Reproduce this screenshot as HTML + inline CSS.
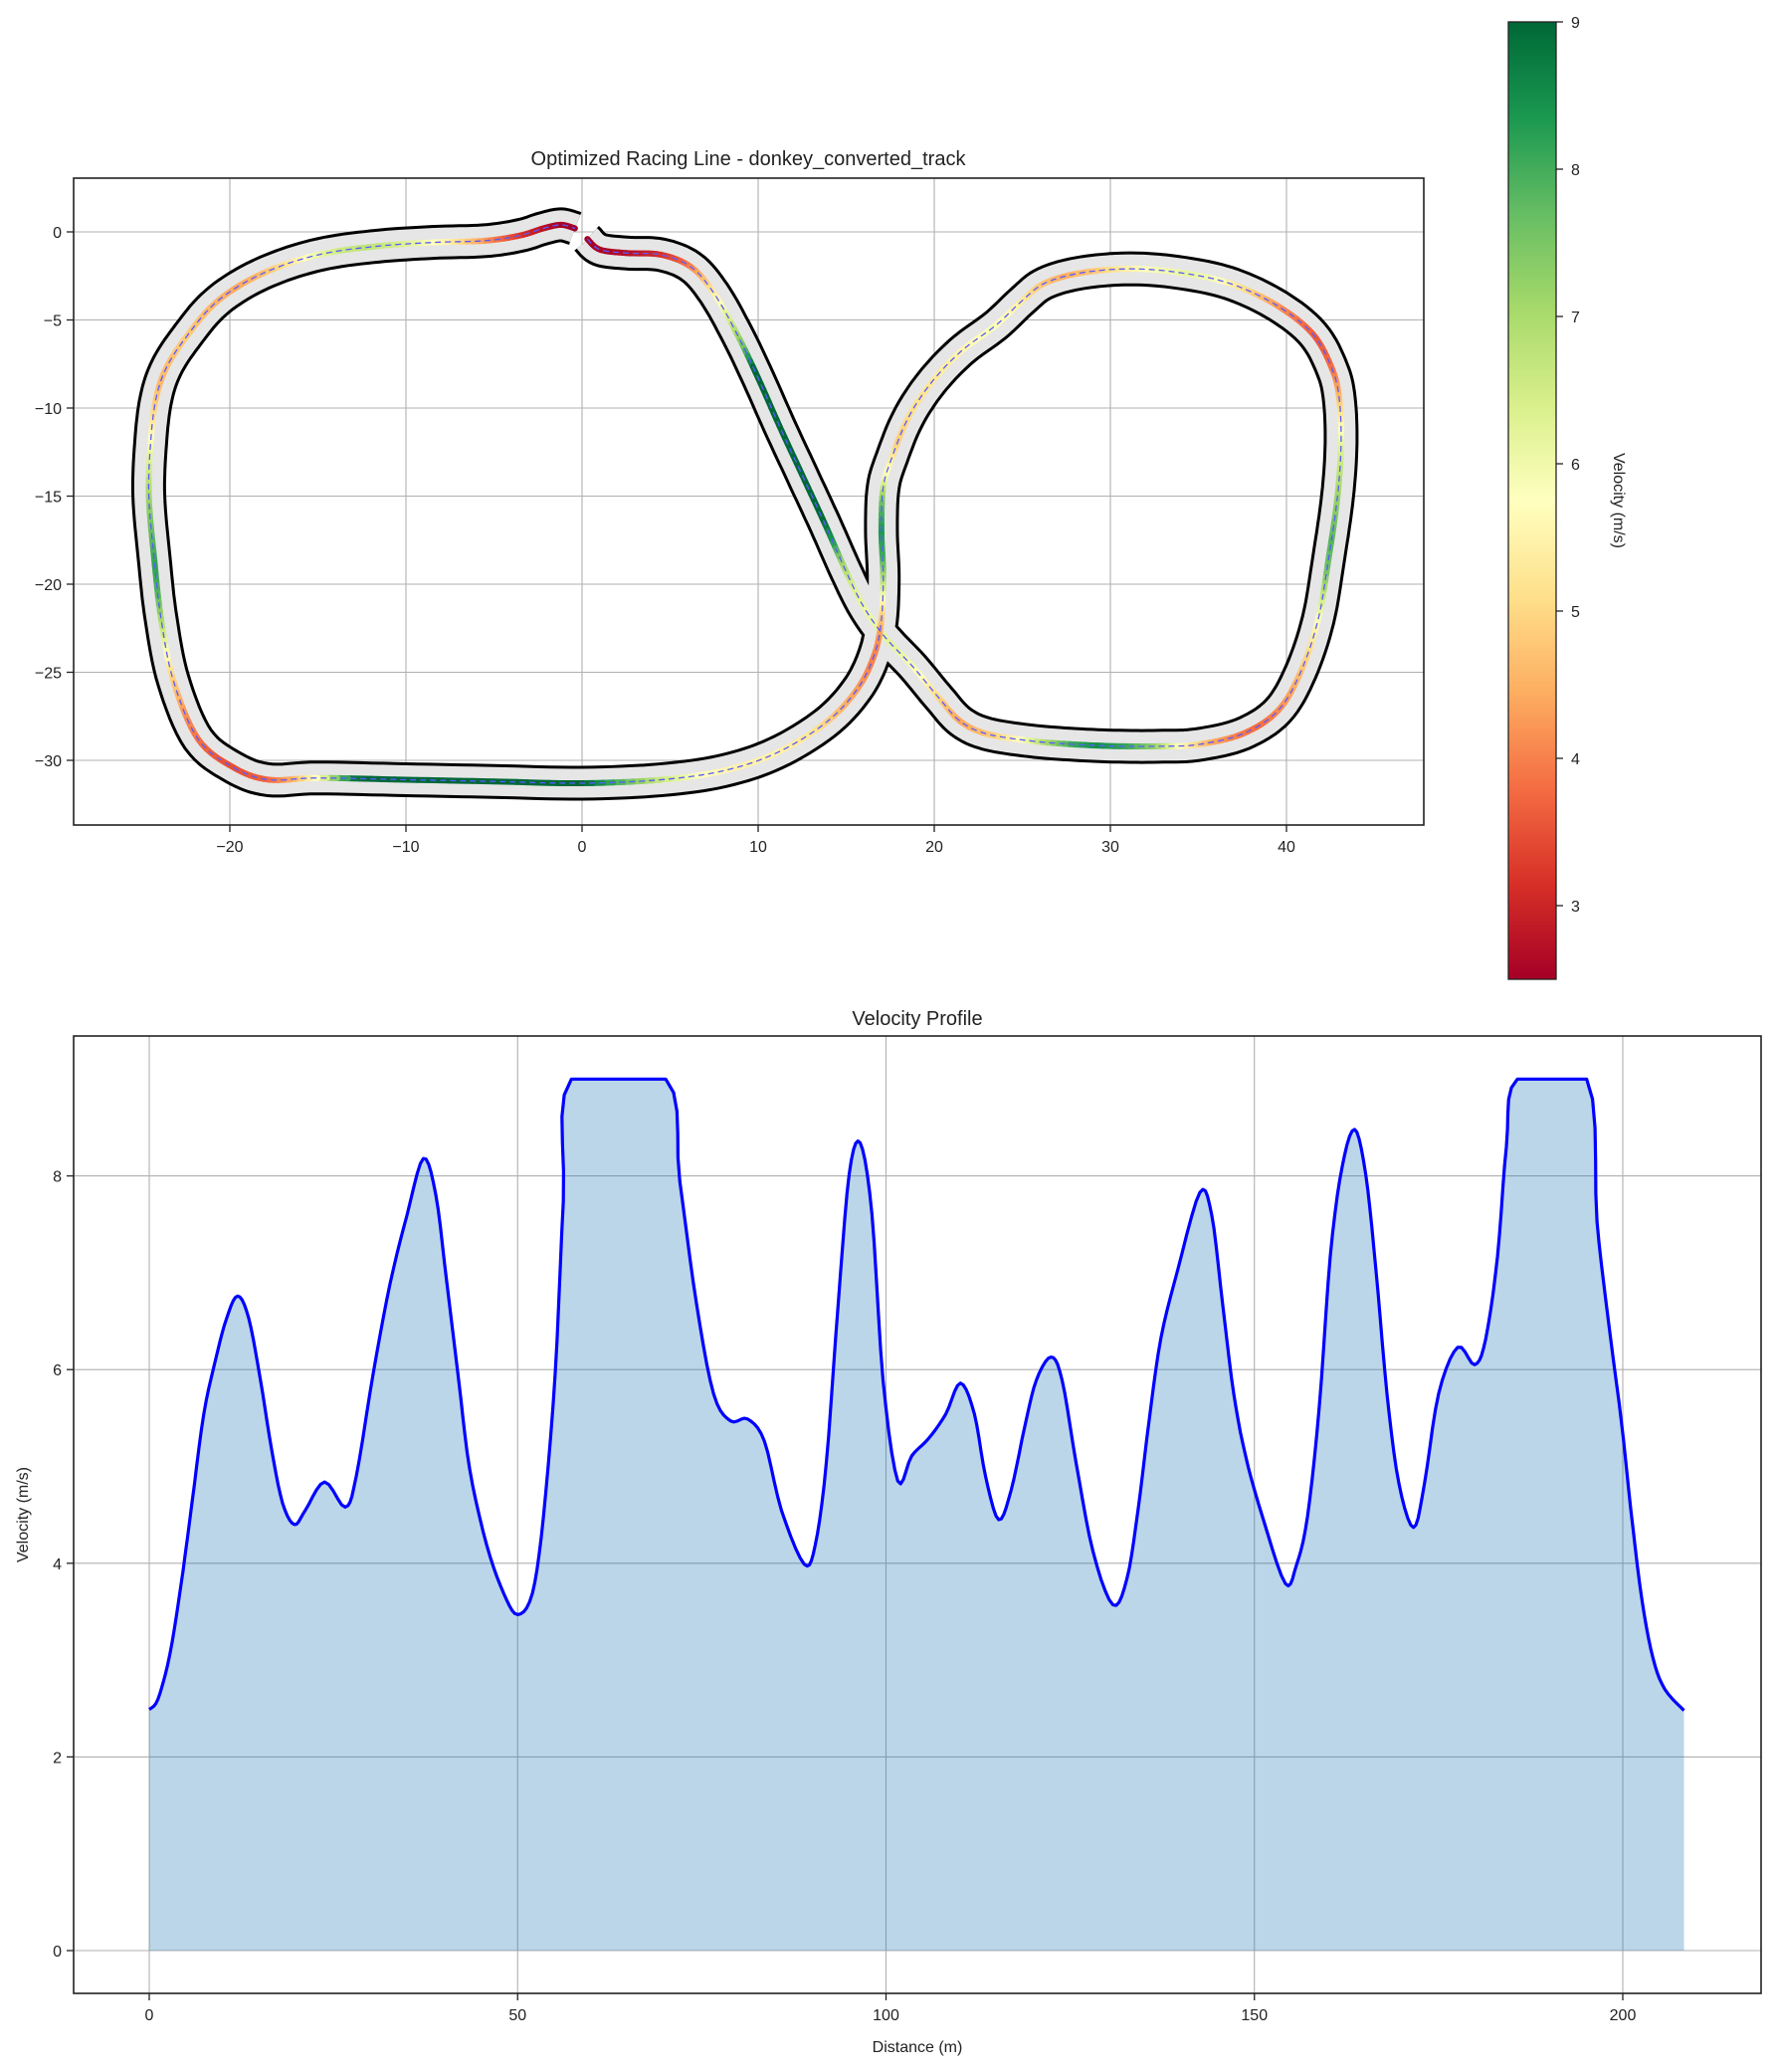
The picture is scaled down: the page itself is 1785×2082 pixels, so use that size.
<!DOCTYPE html>
<html><head><meta charset="utf-8"><style>
html,body{margin:0;padding:0;background:#fff;}
svg{display:block;font-family:"Liberation Sans","DejaVu Sans",sans-serif;}
</style></head><body>
<svg id="fig" width="1785" height="2082" viewBox="0 0 1785 2082" xmlns="http://www.w3.org/2000/svg">
<defs>
<linearGradient id="rdylgn" x1="0" y1="1" x2="0" y2="0">
<stop offset="0" stop-color="#a50026"/><stop offset="0.1" stop-color="#d73027"/><stop offset="0.2" stop-color="#f46d43"/><stop offset="0.3" stop-color="#fdae61"/><stop offset="0.4" stop-color="#fee08b"/><stop offset="0.5" stop-color="#ffffbf"/><stop offset="0.6" stop-color="#d9ef8b"/><stop offset="0.7" stop-color="#a6d96a"/><stop offset="0.8" stop-color="#66bd63"/><stop offset="0.9" stop-color="#1a9850"/><stop offset="1" stop-color="#006837"/>
</linearGradient>
<clipPath id="clipTop"><rect x="74" y="179" width="1357" height="650"/></clipPath>
<clipPath id="clipBot"><rect x="74" y="1041" width="1696" height="962"/></clipPath>
</defs>
</svg>
<script>
// ---- Velocity profile data ----
const distance = [0,1.2,2.8,4.3,5.8,7.4,9.0,10.5,12.0,13.5,15.1,16.6,18.1,19.7,21.2,23.8,26.6,28.1,30.4,32.7,35.0,37.2,38.9,40.4,42.0,43.5,45.8,48.1,50.0,52.0,53.5,55.1,56.2,57.3,70.1,72.0,74.3,76.6,78.9,81.2,83.5,85.8,88.9,90.4,91.9,93.5,95.0,96.5,98.1,99.6,101.6,103.5,105.8,108.1,110.1,112.0,113.5,115.3,117.0,118.8,120.4,122.4,123.9,125.8,128.1,130.8,132.7,134.2,135.7,137.3,139.6,142.6,144.2,145.7,147.2,148.8,151.1,154.2,155.7,157.2,158.8,160.3,161.9,163.6,165.1,166.5,168.0,169.6,171.6,173.1,175.0,177.6,179.9,181.4,183.0,184.2,185.7,195.1,196.5,198.0,199.8,201.1,202.6,204.1,205.7,208.3];
const velocity = [2.49,2.6,3.06,3.77,4.62,5.54,6.1,6.53,6.76,6.53,5.89,5.18,4.62,4.40,4.55,4.84,4.58,4.9,5.96,6.89,7.6,8.18,7.8,6.89,5.89,4.97,4.19,3.69,3.47,3.69,4.48,5.96,7.74,9.0,9.0,7.95,6.67,5.75,5.47,5.49,5.26,4.55,3.99,4.19,5.04,6.67,8.02,8.34,7.6,5.89,4.85,5.11,5.29,5.54,5.86,5.54,4.9,4.45,4.76,5.4,5.89,6.13,5.89,5.04,4.12,3.57,3.84,4.55,5.47,6.32,7.03,7.83,7.6,6.67,5.75,5.11,4.48,3.79,3.98,4.48,5.61,7.17,8.09,8.48,8.02,7.03,5.75,4.83,4.37,4.83,5.75,6.23,6.05,6.32,7.17,8.3,9.0,9.0,7.53,6.53,5.47,4.55,3.62,3.02,2.7,2.48];
const distTicks = [0,50,100,150,200];
const velTicks = [0,2,4,6,8];
// ---- Track centerline (m) ----
const trackX = [0.3,1.0,2.5,4.5,6.2,7.5,8.8,10.0,11.2,12.5,13.8,15.0,16.0,17.2,18.8,20.3,21.5,23.0,25.5,28,30.5,33,35,37.5,39.5,40.8,41.8,42.4,42.9,43.1,43.0,42.6,41.5,39.5,37.0,34.5,31.5,28.5,26.3,25.0,23.5,21.5,19.8,18.5,17.6,17.1,17.0,17.1,17.0,16.6,15.6,13.8,11.0,8.0,4.5,0,-5,-10,-15,-17.8,-19.8,-21.8,-23.2,-23.9,-24.3,-24.6,-24.5,-24.2,-23.6,-22.5,-21.0,-19.2,-17.0,-14.5,-11.5,-8.5,-5.5,-3.5,-2.2,-1.2,-0.4];
const trackY = [-0.4,-1.0,-1.2,-1.3,-2.0,-3.5,-5.8,-8.3,-11.0,-13.8,-16.6,-19.3,-21.3,-23.0,-24.7,-26.5,-27.8,-28.5,-28.9,-29.1,-29.2,-29.2,-29.1,-28.5,-27.2,-25.0,-22.0,-18.5,-15.0,-12.0,-9.5,-7.8,-5.8,-4.2,-3.0,-2.4,-2.1,-2.3,-2.9,-3.9,-5.3,-6.8,-8.6,-10.6,-12.8,-14.5,-17.0,-19.5,-22.0,-24.0,-26.0,-27.9,-29.6,-30.6,-31.1,-31.3,-31.2,-31.1,-31.0,-31.1,-30.4,-28.8,-25.5,-22.0,-18.5,-15.0,-12.0,-9.5,-7.7,-6.0,-4.2,-2.9,-1.9,-1.2,-0.8,-0.6,-0.5,-0.2,0.2,0.4,0.2];
const trackXTicks = [-20,-10,0,10,20,30,40];
const trackYTicks = [0,-5,-10,-15,-20,-25,-30];
const cbTicks = [3,4,5,6,7,8,9];

const NS = "http://www.w3.org/2000/svg";
const svg = document.getElementById('fig');
function mk(tag, attrs, parent){ const e=document.createElementNS(NS,tag); for(const k in attrs) e.setAttribute(k,attrs[k]); (parent||svg).appendChild(e); return e; }
function fmt(v){ return v<0 ? '\u2212'+Math.abs(v) : String(v); }

const tx = v => 585 + (v)*17.7;
const ty = v => 233 - (v)*17.7;
const bx = v => 150 + v*7.405;
const by = v => 1960 - v*97.3;
const cy = v => 984 - (v-2.5)*148;

const cmapStops = [[0,[165,0,38]],[0.1,[215,48,39]],[0.2,[244,109,67]],[0.3,[253,174,97]],[0.4,[254,224,139]],[0.5,[255,255,191]],[0.6,[217,239,139]],[0.7,[166,217,106]],[0.8,[102,189,99]],[0.9,[26,152,80]],[1,[0,104,55]]];
function cmap(v){ let t=Math.max(0,Math.min(1,(v-2.5)/6.5)); for(let i=1;i<cmapStops.length;i++){ if(t<=cmapStops[i][0]){ const a=cmapStops[i-1],b=cmapStops[i]; const f=(t-a[0])/(b[0]-a[0]); const c=a[1].map((x,j)=>Math.round(x+(b[1][j]-x)*f)); return 'rgb('+c.join(',')+')'; } } return 'rgb(0,104,55)'; }
function velAt(d){ for(let i=1;i<distance.length;i++){ if(d<=distance[i]){ const f=(d-distance[i-1])/(distance[i]-distance[i-1]); return velocity[i-1]+(velocity[i]-velocity[i-1])*f; } } return velocity[velocity.length-1]; }
function catmull(xs,ys,n){ const out=[]; const N=xs.length; for(let i=0;i<N-1;i++){ const p0=[xs[Math.max(0,i-1)],ys[Math.max(0,i-1)]],p1=[xs[i],ys[i]],p2=[xs[i+1],ys[i+1]],p3=[xs[Math.min(N-1,i+2)],ys[Math.min(N-1,i+2)]]; for(let s=0;s<n;s++){ const t=s/n,t2=t*t,t3=t2*t; out.push([0.5*((2*p1[0])+(-p0[0]+p2[0])*t+(2*p0[0]-5*p1[0]+4*p2[0]-p3[0])*t2+(-p0[0]+3*p1[0]-3*p2[0]+p3[0])*t3),0.5*((2*p1[1])+(-p0[1]+p2[1])*t+(2*p0[1]-5*p1[1]+4*p2[1]-p3[1])*t2+(-p0[1]+3*p1[1]-3*p2[1]+p3[1])*t3)]); } } out.push([xs[N-1],ys[N-1]]); return out; }

// ===== Top axes =====
const gTop = mk('g',{});


trackXTicks.forEach(v=>{
  const l=mk('line',{x1:tx(v),x2:tx(v),y1:179,y2:829,stroke:'#b0b0b0','stroke-width':1.1},gTop);
   
  const k=mk('line',{x1:tx(v),x2:tx(v),y1:829,y2:836,stroke:'#222','stroke-width':1.3},gTop);
   
  const t=mk('text',{x:tx(v),y:856,'font-size':16,'text-anchor':'middle',fill:'#222'},gTop); t.textContent=fmt(v);
   
});
trackYTicks.forEach(v=>{
  const l=mk('line',{x1:74,x2:1431,y1:ty(v),y2:ty(v),stroke:'#b0b0b0','stroke-width':1.1},gTop);
   
  const k=mk('line',{x1:67,x2:74,y1:ty(v),y2:ty(v),stroke:'#222','stroke-width':1.3},gTop);
   
  const t=mk('text',{x:62,y:ty(v)+6,'font-size':16,'text-anchor':'end',fill:'#222'},gTop); t.textContent=fmt(v);
   
});
const pts = catmull(trackX,trackY,8);
const ptsPx = pts.map(p=>[tx(p[0]),ty(p[1])]);
const dStr = 'M'+ptsPx.map(p=>p[0].toFixed(1)+','+p[1].toFixed(1)).join(' L');
const gTrack = mk('g',{'clip-path':'url(#clipTop)'},gTop);
 
const tb = mk('path',{d:dStr,fill:'none',stroke:'#000','stroke-width':35,'stroke-linejoin':'round','stroke-linecap':'butt'},gTrack);
 
const ts = mk('path',{d:dStr,fill:'none',stroke:'#e6e6e6','stroke-width':29,'stroke-linejoin':'round','stroke-linecap':'butt'},gTrack);
 
// racing line colored by velocity (driven from the end of the centerline array back to its start)
let cum=[0]; for(let i=1;i<pts.length;i++){ cum.push(cum[i-1]+Math.hypot(pts[i][0]-pts[i-1][0],pts[i][1]-pts[i-1][1])); }
const total = cum[cum.length-1], dmax = distance[distance.length-1];
const gRace = mk('g',{},gTrack);
 
for(let i=1;i<ptsPx.length;i++){
  const d=(1-(cum[i-1]+cum[i])/2/total)*dmax;
  const s=mk('line',{x1:ptsPx[i-1][0],y1:ptsPx[i-1][1],x2:ptsPx[i][0],y2:ptsPx[i][1],stroke:cmap(velAt(d)),'stroke-width':6,'stroke-linecap':'round'},gRace);
   
}
const ref = mk('path',{d:dStr,fill:'none',stroke:'#5a5aff','stroke-width':1.3,'stroke-dasharray':'6,4'},gTrack);
 
const topFrame = mk('rect',{x:74,y:179,width:1357,height:650,fill:'none',stroke:'#222','stroke-width':1.6},gTop);
 
const topTitle = mk('text',{x:752,y:166,'font-size':20,'text-anchor':'middle',fill:'#222'},gTop);
topTitle.textContent='Optimized Racing Line - donkey_converted_track';
 

// colorbar
const gCb = mk('g',{});
 
const cbr = mk('rect',{x:1516,y:22,width:48,height:962,fill:'url(#rdylgn)',stroke:'#222','stroke-width':1.3},gCb);
 
cbTicks.forEach(v=>{
  const k=mk('line',{x1:1564,x2:1571,y1:cy(v),y2:cy(v),stroke:'#222','stroke-width':1.3},gCb);
   
  const t=mk('text',{x:1579,y:cy(v)+6,'font-size':16,fill:'#222'},gCb); t.textContent=String(v);
   
});
const cbl = mk('text',{x:1622,y:503,'font-size':16,'text-anchor':'middle',fill:'#222',transform:'rotate(90 1622 503)'},gCb);
cbl.textContent='Velocity (m/s)';
 

// ===== Bottom axes =====
const gBot = mk('g',{});
 
distTicks.forEach(v=>{
  const l=mk('line',{x1:bx(v),x2:bx(v),y1:1041,y2:2003,stroke:'#b0b0b0','stroke-width':1.1},gBot);
   
  const k=mk('line',{x1:bx(v),x2:bx(v),y1:2003,y2:2010,stroke:'#222','stroke-width':1.3},gBot);
   
  const t=mk('text',{x:bx(v),y:2030,'font-size':16,'text-anchor':'middle',fill:'#222'},gBot); t.textContent=String(v);
   
});
velTicks.forEach(v=>{
  const l=mk('line',{x1:74,x2:1770,y1:by(v),y2:by(v),stroke:'#b0b0b0','stroke-width':1.1},gBot);
   
  const k=mk('line',{x1:67,x2:74,y1:by(v),y2:by(v),stroke:'#222','stroke-width':1.3},gBot);
   
  const t=mk('text',{x:62,y:by(v)+6,'font-size':16,'text-anchor':'end',fill:'#222'},gBot); t.textContent=String(v);
   
});
const vmax = Math.max(...velocity);
const vs = catmull(distance,velocity,5).map(p=>[p[0],Math.min(vmax,p[1])]);
let line='M'+vs.map(p=>bx(p[0]).toFixed(1)+','+by(p[1]).toFixed(1)).join(' L');
let area=line+' L'+bx(distance[distance.length-1]).toFixed(1)+','+by(0)+' L'+bx(distance[0]).toFixed(1)+','+by(0)+' Z';
const ar = mk('path',{d:area,fill:'#1f77b4','fill-opacity':0.3,stroke:'none','clip-path':'url(#clipBot)'},gBot);
 
const ln = mk('path',{d:line,fill:'none',stroke:'#0000ff','stroke-width':3.2,'stroke-linejoin':'round','clip-path':'url(#clipBot)'},gBot);
 
const botFrame = mk('rect',{x:74,y:1041,width:1696,height:962,fill:'none',stroke:'#222','stroke-width':1.6},gBot);
 
const botTitle = mk('text',{x:922,y:1030,'font-size':20,'text-anchor':'middle',fill:'#222'},gBot);
botTitle.textContent='Velocity Profile';
 
const xl = mk('text',{x:922,y:2062,'font-size':16,'text-anchor':'middle',fill:'#222'},gBot);
xl.textContent='Distance (m)';
 
const yl = mk('text',{x:28,y:1522,'font-size':16,'text-anchor':'middle',fill:'#222',transform:'rotate(-90 28 1522)'},gBot);
yl.textContent='Velocity (m/s)';
 
</script>
</body></html>
